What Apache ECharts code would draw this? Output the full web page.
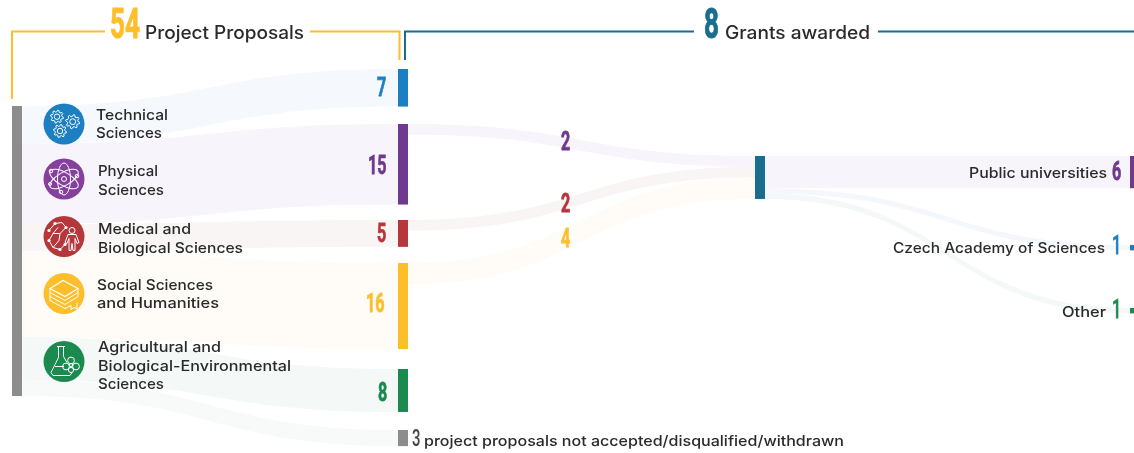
<!DOCTYPE html>
<html><head><meta charset="utf-8">
<style>html,body{margin:0;padding:0;background:#fff}#c{width:1134px;height:453px}</style>
<script src="https://cdn.jsdelivr.net/npm/echarts@6/dist/echarts.min.js"></script>
</head><body><div id="c"></div>
<script>
// ---- data ----
const totalProposals = 54;
const totalGrants = 8;
const fields = ['Technical Sciences','Physical Sciences','Medical and Biological Sciences','Social Sciences and Humanities','Agricultural and Biological-Environmental Sciences'];
const proposals = [7,15,5,16,8];
const rejected = 3;
const grantsByField = [0,2,2,4,0];
const recipients = ['Public universities','Czech Academy of Sciences','Other'];
const recipientGrants = [6,1,1];
// ---- styles ----
const fieldColors = ['#1b7fc1','#6f3a8e','#b5373c','#fdbe2c','#1c8a4e'];
const iconColors = ['#1b7fc1','#853f9c','#b5373c','#fdbe2c','#1c8a4e'];
const fieldLink = ['#f5f8fc','#f7f5fb','#f9f5f5','#fffcf7','#f4f8f7'];
const recColors = ['#6f3a8e','#1b7fc1','#1c8a4e'];
const recLink = ['#f7f5fb','#f4f8fc','#f4f8f7'];
const GRAY='#8c8c8c', TEAL='#196e8e', YEL='#fdbe2c', INK='#2a2a2a';
const SCALE_H = 290;
const nodeX = {left:12, fields:398, grant:755, rec:1130};
const fieldY = [69,124,220,263,369];
const rejectedY = 430, grantY = 156, recY = [156,245,308];
const W = 1134;
const pos=(x,y)=>({localX:x/W, localY:y/SCALE_H});

const nodes = [
  {name:'Proposals', itemStyle:{color:GRAY}, ...pos(nodeX.left,106)},
  ...fields.map((n,i)=>({name:n,itemStyle:{color:fieldColors[i]},...pos(nodeX.fields,fieldY[i])})),
  {name:'Rejected',itemStyle:{color:GRAY},...pos(nodeX.fields,rejectedY)},
  {name:'Grants',itemStyle:{color:TEAL},...pos(nodeX.grant,grantY)},
  ...recipients.map((n,i)=>({name:n,itemStyle:{color:recColors[i]},...pos(nodeX.rec,recY[i])}))
];
const links = [
  ...fields.map((n,i)=>({source:'Proposals',target:n,value:proposals[i],lineStyle:{color:fieldLink[i],opacity:1}})),
  {source:'Proposals',target:'Rejected',value:rejected,lineStyle:{color:'#f8f9f9',opacity:1}},
  ...fields.map((n,i)=>grantsByField[i]?({source:n,target:'Grants',value:grantsByField[i],lineStyle:{color:fieldLink[i],opacity:1}}):null).filter(Boolean),
  ...recipients.map((n,i)=>({source:'Grants',target:n,value:recipientGrants[i],lineStyle:{color:recLink[i],opacity:1}}))
];

// ---- text helpers ----
const NUM_SX = 0.62;
const NUMF = 'Roboto';
const mctx=document.createElement('canvas').getContext('2d');
function txt(t,x0,x1,y,size){const font='500 '+size+'px Inter';mctx.font=font;const sx=(x1-x0)/mctx.measureText(t).width;
  return {type:'text',x:x0,y:y+1,scaleX:sx,silent:true,style:{text:t,x:0,y:0,fill:INK,font,textAlign:'left',textVerticalAlign:'middle'}};}
function num(v,x,y,size,color,w,sw){return {type:'text',x,y,scaleX:NUM_SX,silent:true,style:{text:String(v),x:0,y:0,fill:color,stroke:color,lineWidth:sw==null?0.8:sw,font:(w||700)+' '+size+'px '+NUMF,textAlign:'left',textVerticalAlign:'middle'}};}
function line(pts,color,w){return {type:'polyline',silent:true,shape:{points:pts},style:{stroke:color,lineWidth:w||2,fill:null}};}

// ---- icons ----
const st={stroke:'#fff',lineWidth:1,fill:null};
function cog(x,y,r){const p=[];const n=8;for(let i=0;i<n*4;i++){const a=i/(n*4)*Math.PI*2;const k=(i%4<2)?r:r*0.74;p.push([Math.cos(a+0.1)*k,Math.sin(a+0.1)*k]);}
  return {type:'group',x,y,children:[{type:'polygon',shape:{points:p},style:st,silent:true},{type:'circle',shape:{r:r*0.42},style:st,silent:true}]};}
function ell(rot){return {type:'ellipse',rotation:rot,shape:{cx:0,cy:0,rx:16,ry:6.5},style:st,silent:true};}
function dot(x,y,r,fill){return {type:'circle',x,y,shape:{r},style:fill?{fill:'#fff'}:st,silent:true};}
function pl(pts){return {type:'polyline',shape:{points:pts},style:st,silent:true};}
const icons=[
  [cog(-7,-7.3,6.5),cog(8.7,-2.3,7),cog(-4,7,6.5)],
  [ell(Math.PI/6),ell(Math.PI/2),ell(5*Math.PI/6),dot(0,0,2.5),dot(-13,-8,1.8),dot(13,-3,1.8),dot(-3,13,1.8),dot(-14,5,1.5)],
  [pl([[-15,-6],[-9,-13],[-2,-14],[2,-9],[-4,-3],[-11,-3],[-15,4],[-11,11],[-4,13],[1,8]]),pl([[-11,-3],[-6,-9]]),pl([[-11,11],[-5,4],[-4,-3]]),
   dot(-15,-6,1.6,1),dot(-9,-13,1.6,1),dot(2,-9,1.6,1),dot(-15,4,1.6,1),dot(-4,13,1.6,1),dot(1,8,1.6,1),
   dot(8,-6,3),{type:'polygon',shape:{points:[[4,-2],[12,-2],[15,6],[13,7],[11,2],[11,14],[9,14],[8,7],[7,14],[5,14],[5,2],[3,7],[1,6]]},style:st,silent:true}],
  [{type:'polygon',shape:{points:[[-14,-5],[-1,-13],[14,-5],[1,3]]},style:{stroke:'#fff',lineWidth:1.2,fill:null},silent:true},
   pl([[-14,-5],[-14,-1],[1,7],[14,-1],[14,-5]]),pl([[-14,-1],[-14,3],[1,11],[14,3],[14,-1]]),pl([[-14,3],[-14,7],[1,15],[7,12],[7,16],[10,14],[13,15],[13,9]])],
  [pl([[-7,-15],[1,-15]]),pl([[-5.5,-15],[-5.5,-4],[-13,11],[-11,14],[6,14],[8,11]]),pl([[-0.5,-15],[-0.5,-5],[3,1]]),pl([[-9,5],[0,5]]),
   dot(7,-1,3.4),dot(2,5,3.4),dot(12,5,3.4),dot(7,8.5,2.6),dot(7,3.5,1.6)]
];
const iconY=[124,179,236.5,293.5,361.5];
const iconGfx = icons.map((ch,i)=>({type:'group',x:64,y:iconY[i],silent:true,children:[{type:'circle',shape:{r:20.5},style:{fill:iconColors[i]},silent:true},...ch]}));

// ---- text layout ----
const fieldLines=[['Technical','Sciences'],['Physical','Sciences'],['Medical and','Biological Sciences'],['Social Sciences','and Humanities'],['Agricultural and','Biological-Environmental','Sciences']];
const fieldLineX=[96,98,98,97,98];
const fieldLineEnd=[[168,162],[158,164],[191,243],[213,219],[221,291,164]];
const fieldLineY=[[115,133],[171,190],[229,248],[285,303],[347,366,384]];
const fieldNum=[[377,89],[368,167],[377,235],[366,305],[378,394]];
const gfx=[
  line([[12,99],[12,31.5],[105,31.5]],YEL),
  line([[310,31.5],[399.5,31.5],[399.5,60]],YEL),
  line([[405,60],[405,31.5],[694,31.5]],TEAL),
  line([[878,31.5],[1134,31.5]],TEAL),
  num(totalProposals,110,27,42,YEL,700,1),
  txt('Project Proposals',145,304,32.5,18),
  num(totalGrants,704,27,42,TEAL,700,1),
  txt('Grants awarded',725,870,32.5,18),
  ...iconGfx,
  ...fieldLines.flatMap((ls,i)=>ls.map((t,j)=>txt(t,fieldLineX[i],fieldLineEnd[i][j],fieldLineY[i][j],14.5))),
  ...proposals.map((v,i)=>num(v,fieldNum[i][0],fieldNum[i][1],26,fieldColors[i])),
  num(grantsByField[1],561,143,26,fieldColors[1]),
  num(grantsByField[2],561,205,26,fieldColors[2]),
  num(grantsByField[3],561,240,26,fieldColors[3]),
  num(rejected,412,440,24,'#444',500,0),
  txt('project proposals not accepted/disqualified/withdrawn',424,844,440.5,14.5),
  txt(recipients[0],969,1107,173,14.5), num(recipientGrants[0],1112,173,26,recColors[0]),
  txt(recipients[1],893,1105,247.5,14.5), num(recipientGrants[1],1112,247,26,recColors[1],500),
  txt(recipients[2],1062,1106,311.5,14.5), num(recipientGrants[2],1112,311,26,recColors[2],500)
];
(function setZ(a){a.forEach(e=>{e.z=100;if(e.children)setZ(e.children);});})(gfx);

const chart=echarts.init(document.getElementById('c'),null,{renderer:'canvas'});
chart.setOption({
  animation:false,
  backgroundColor:'#fff',
  tooltip:{show:false},
  graphic:{elements:gfx},
  series:[{
    type:'sankey',left:0,top:0,width:W,height:SCALE_H,
    nodeWidth:10,nodeGap:0,layoutIterations:0,nodeAlign:'left',draggable:false,silent:true,
    emphasis:{disabled:true},
    label:{show:false},
    lineStyle:{curveness:0.5},
    data:nodes,links:links
  }]
});
</script></body></html>
